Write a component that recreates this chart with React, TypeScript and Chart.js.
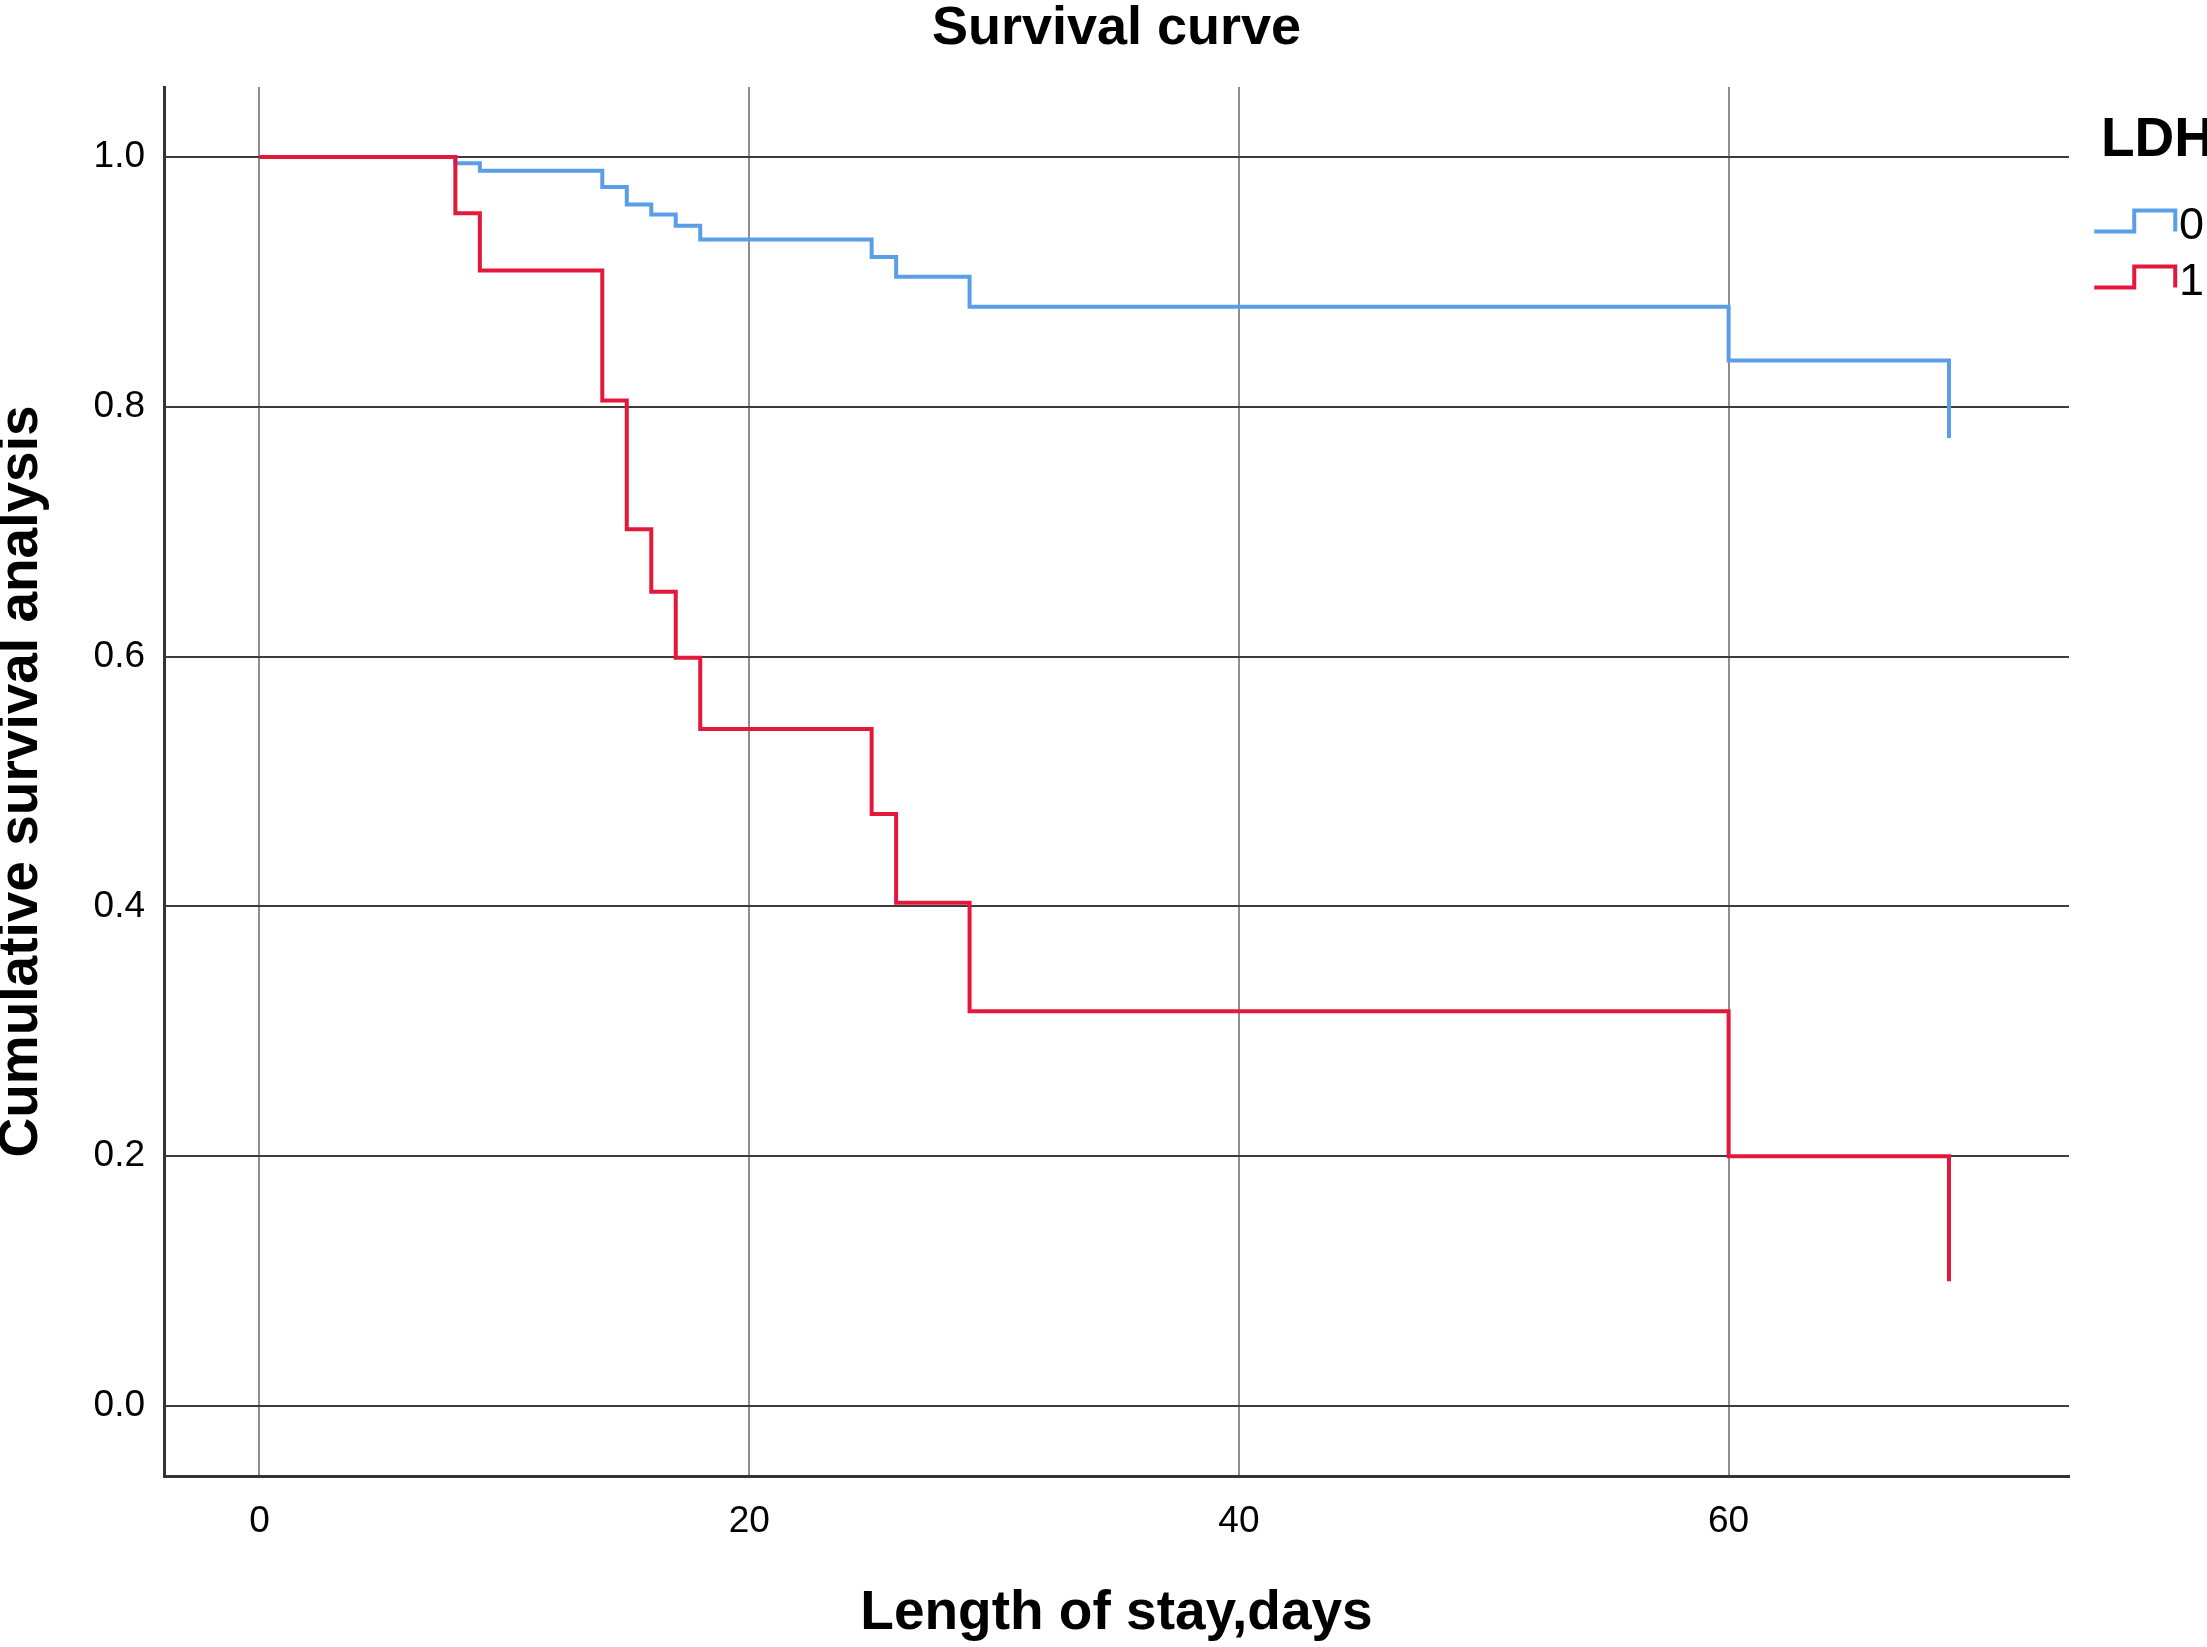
import React, { useEffect, useRef } from 'react';
import { Chart, registerables } from 'chart.js';

Chart.register(...registerables);

// Kaplan-Meier steps (days, cumulative survival)
const groups = ['0', '1'];
const days0 = [0, 8, 9, 14, 15, 16, 17, 18, 25, 26, 29, 60, 69];
const survival0 = [1.0, 0.995, 0.989, 0.976, 0.962, 0.954, 0.945, 0.934, 0.92, 0.904, 0.88, 0.837, 0.775];
const days1 = [0, 8, 9, 14, 15, 16, 17, 18, 25, 26, 29, 60, 69];
const survival1 = [1.0, 0.955, 0.909, 0.805, 0.702, 0.652, 0.599, 0.542, 0.474, 0.403, 0.316, 0.2, 0.1];
const xTicks = [0, 20, 40, 60];
const yTicks = [0, 0.2, 0.4, 0.6, 0.8, 1.0];

const BLUE = '#5b9ee8';
const RED = '#e3183b';
const FONT = '"Liberation Sans", Arial, sans-serif';

// small step-shaped legend symbol, like the SPSS one
function stepIcon(color: string): HTMLCanvasElement {
  const c = document.createElement('canvas');
  c.width = 120;
  c.height = 60;
  const ctx = c.getContext('2d');
  if (ctx) {
    ctx.strokeStyle = color;
    ctx.lineWidth = 4;
    ctx.beginPath();
    ctx.moveTo(36, 35);
    ctx.lineTo(76, 35);
    ctx.lineTo(76, 14);
    ctx.lineTo(117, 14);
    ctx.lineTo(117, 35);
    ctx.stroke();
  }
  return c;
}

export default function App() {
  const canvasRef = useRef<HTMLCanvasElement>(null);

  useEffect(() => {
    if (!canvasRef.current) return;
    Chart.defaults.font.family = FONT;
    Chart.defaults.color = '#000';

    const icons = [stepIcon(BLUE), stepIcon(RED)];

    const chart = new Chart(canvasRef.current, {
      type: 'line',
      data: {
        datasets: [
          {
            label: groups[0],
            data: days0.map((d, i) => ({ x: d, y: survival0[i] })),
            borderColor: BLUE,
            borderWidth: 4,
            stepped: true,
            pointRadius: 0,
            fill: false,
            order: 1,
          },
          {
            label: groups[1],
            data: days1.map((d, i) => ({ x: d, y: survival1[i] })),
            borderColor: RED,
            borderWidth: 4,
            stepped: true,
            pointRadius: 0,
            fill: false,
            order: 0,
          },
        ],
      },
      options: {
        animation: false,
        responsive: true,
        maintainAspectRatio: false,
        layout: { padding: 0 },
        plugins: {
          tooltip: { enabled: false },
          title: {
            display: true,
            text: 'Survival curve',
            fullSize: false,
            color: '#000',
            font: { size: 54, weight: 'bold', lineHeight: 0.8 },
            padding: { top: 8, bottom: 35.8 },
          },
          legend: {
            position: 'right',
            align: 'start',
            title: {
              display: true,
              text: 'LDH',
              position: 'end',
              color: '#000',
              font: { size: 55, weight: 'bold' },
              padding: { top: 113, bottom: 14 },
            },
            labels: {
              usePointStyle: true,
              pointStyleWidth: 76.5,
              padding: 11,
              color: '#000',
              font: { size: 45 },
              generateLabels: () =>
                groups.map((g, i) => ({
                  text: g,
                  pointStyle: icons[i],
                  fillStyle: 'transparent',
                  strokeStyle: 'transparent',
                  lineWidth: 0,
                  hidden: false,
                  datasetIndex: i,
                  fontColor: '#000',
                })),
            },
          },
        },
        scales: {
          x: {
            type: 'linear',
            min: -3.9,
            max: 73.9,
            afterBuildTicks: (scale: any) => {
              scale.ticks = xTicks.map((v) => ({ value: v }));
            },
            afterFit: (scale: any) => {
              scale.height = 171;
            },
            grid: { color: '#8e8e8e', lineWidth: 2, drawTicks: false },
            border: { color: '#333', width: 3 },
            ticks: { font: { size: 37 }, color: '#000', padding: 24 },
            title: {
              display: true,
              text: 'Length of stay,days',
              color: '#000',
              font: { size: 55, weight: 'bold' },
              padding: { top: 0, bottom: 0 },
            },
          },
          y: {
            type: 'linear',
            min: -0.056,
            max: 1.056,
            afterBuildTicks: (scale: any) => {
              scale.ticks = yTicks.map((v) => ({ value: v }));
            },
            afterFit: (scale: any) => {
              scale.width = 164;
            },
            grid: { color: '#3c3c3c', lineWidth: 2, drawTicks: false },
            border: { color: '#333', width: 3 },
            ticks: {
              font: { size: 37 },
              color: '#000',
              padding: 19,
              callback: (value: any) => Number(value).toFixed(1),
            },
            title: {
              display: true,
              text: 'Cumulative survival analysis',
              color: '#000',
              font: { size: 55, weight: 'bold', lineHeight: 0.8 },
              padding: { top: 0, bottom: 0 },
            },
          },
        },
      },
    });

    return () => {
      chart.destroy();
    };
  }, []);

  return (
    <div
      style={{
        position: 'fixed',
        left: 0,
        top: 0,
        width: 2207,
        height: 1647,
        overflow: 'hidden',
        background: '#fff',
      }}
    >
      <div style={{ position: 'relative', width: 2214, height: 1647 }}>
        <canvas ref={canvasRef} />
      </div>
    </div>
  );
}
